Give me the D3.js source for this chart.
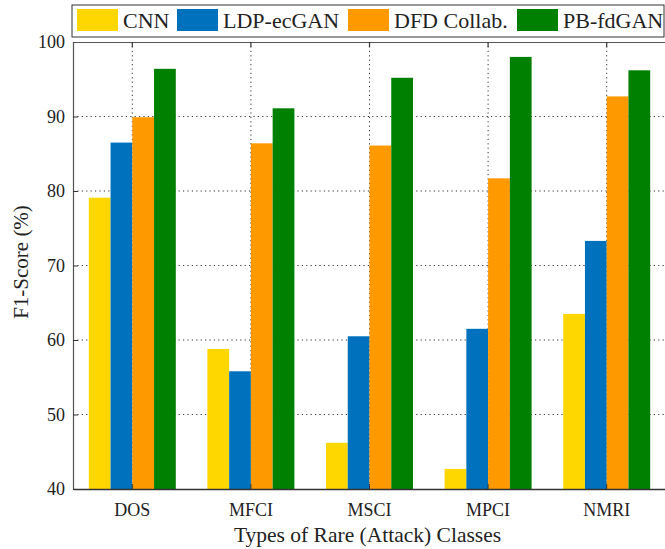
<!DOCTYPE html>
<html>
<head>
<meta charset="utf-8">
<script src="https://cdn.jsdelivr.net/npm/d3@7"></script>
<style>
  html, body { margin: 0; padding: 0; background: #fff; }
  svg { display: block; }
  text { font-family: "Liberation Serif", "Times New Roman", serif; fill: #222; }
</style>
</head>
<body>
<svg id="chart" width="665" height="549"></svg>
<script>
// Attack classes on the x axis
const categories = ["DOS", "MFCI", "MSCI", "MPCI", "NMRI"];
// Compared models, in legend order
const seriesNames = ["CNN", "LDP-ecGAN", "DFD Collab.", "PB-fdGAN"];
const seriesColors = ["#FFD700", "#0072BD", "#FF9900", "#008000"];
// F1-score (%) for each model, one value per class
const cnnValues   = [79.1, 58.8, 46.2, 42.7, 63.5];
const ldpValues   = [86.5, 55.8, 60.5, 61.5, 73.3];
const dfdValues   = [89.9, 86.4, 86.1, 81.7, 92.7];
const pbValues    = [96.4, 91.1, 95.2, 98.0, 96.2];
const yTicks = [40, 50, 60, 70, 80, 90, 100];

const seriesValues = [cnnValues, ldpValues, dfdValues, pbValues];

const svg = d3.select("#chart");
const margin = { left: 73, right: 666, top: 42, bottom: 489 };

const x = d3.scaleBand().domain(categories).range([margin.left, margin.right]).paddingInner(0).paddingOuter(0);
const xInner = d3.scaleBand().domain(seriesNames).range([0, 87]).padding(0);
const y = d3.scaleLinear().domain([40, 100]).range([margin.bottom, margin.top]);

const center = c => x(c) + x.bandwidth() / 2;

// Dotted grid behind the bars
const grid = svg.append("g");
grid.selectAll("line.h").data(yTicks.filter(t => t > 40 && t < 100)).join("line")
  .attr("x1", margin.left).attr("x2", margin.right)
  .attr("y1", d => y(d)).attr("y2", d => y(d))
  .attr("stroke", "#333").attr("stroke-width", 1).attr("stroke-dasharray", "1.2,3.2");
grid.selectAll("line.v").data(categories).join("line")
  .attr("x1", d => center(d)).attr("x2", d => center(d))
  .attr("y1", margin.top).attr("y2", margin.bottom)
  .attr("stroke", "#333").attr("stroke-width", 1).attr("stroke-dasharray", "1.2,3.2");

// Bars
const groups = svg.append("g").selectAll("g").data(categories).join("g")
  .attr("transform", d => `translate(${center(d) - 43.5},0)`);
groups.selectAll("rect").data((c, i) => seriesNames.map((s, k) => ({ s, k, v: seriesValues[k][i] })))
  .join("rect")
  .attr("x", d => xInner(d.s))
  .attr("width", xInner.bandwidth())
  .attr("y", d => y(d.v))
  .attr("height", d => y(40) - y(d.v))
  .attr("fill", d => seriesColors[d.k]);

// Axes
const yAxis = d3.axisLeft(y).tickValues(yTicks).tickSize(-5).tickSizeOuter(0).tickPadding(8).tickFormat(d3.format("d"));
const gy = svg.append("g").attr("transform", `translate(${margin.left},0)`).call(yAxis);
gy.select(".domain").attr("stroke", "#555").attr("stroke-width", 1.2);
gy.selectAll(".tick line").attr("stroke", "#333");
gy.selectAll(".tick text").attr("font-size", 18).attr("font-family", "Liberation Serif").attr("fill", "#222");

const xAxis = d3.axisBottom(x).tickSize(-5).tickSizeOuter(0).tickPadding(14);
const gx = svg.append("g").attr("transform", `translate(0,${margin.bottom})`).call(xAxis);
gx.select(".domain").attr("stroke", "#333").attr("stroke-width", 1.6);
gx.selectAll(".tick line").attr("stroke", "#333");
gx.selectAll(".tick text").attr("font-size", 18).attr("font-family", "Liberation Serif").attr("fill", "#222");

const xTop = d3.axisTop(x).tickSize(-5).tickSizeOuter(0).tickFormat("");
const gt = svg.append("g").attr("transform", `translate(0,${margin.top})`).call(xTop);
gt.select(".domain").attr("stroke", "#555").attr("stroke-width", 1.2);
gt.selectAll(".tick line").attr("stroke", "#333").attr("stroke-width", 1.2);

// Axis titles
svg.append("text").attr("x", (margin.left + margin.right) / 2 - 2).attr("y", 542)
  .attr("text-anchor", "middle").attr("font-size", 21.5).text("Types of Rare (Attack) Classes");
svg.append("text").attr("transform", `translate(28,262) rotate(-90)`)
  .attr("text-anchor", "middle").attr("font-size", 21).text("F1-Score (%)");

// Legend
const legend = svg.append("g");
legend.append("rect").attr("x", 72).attr("y", 5).attr("width", 592).attr("height", 32)
  .attr("fill", "#fff").attr("stroke", "#333").attr("stroke-width", 1);
const legendX = [77, 177, 348, 517];
const items = legend.selectAll("g").data(seriesNames).join("g")
  .attr("transform", (d, i) => `translate(${legendX[i]},0)`);
items.append("rect").attr("x", 0).attr("y", 9).attr("width", 41).attr("height", 22)
  .attr("fill", (d, i) => seriesColors[i]);
items.append("text").attr("x", 46).attr("y", 28).attr("font-size", 22).text(d => d);
</script>
</body>
</html>
